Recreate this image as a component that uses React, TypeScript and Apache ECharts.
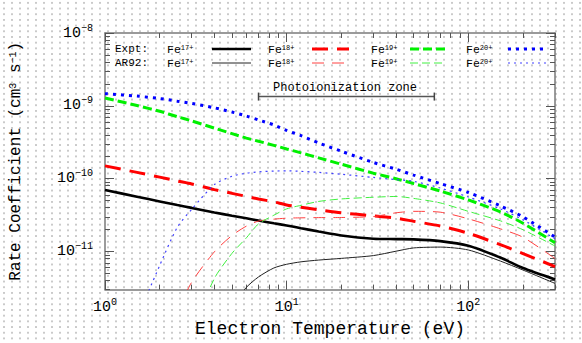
import React, { useEffect, useRef } from "react";
import * as echarts from "echarts";

// Electron temperature grid (eV)
const temperatures = [1, 1.5, 2, 2.5, 3, 4, 5, 6, 7, 8.5, 10, 12, 15, 20, 30, 40, 50, 70, 100, 150, 200, 300];

// Rate coefficients (cm^3 s^-1); null = not plotted
const exptFe17 = [6.98e-11, 5.66e-11, 4.87e-11, 4.34e-11, 3.97e-11, 3.43e-11, 3.10e-11, 2.86e-11, 2.66e-11, 2.44e-11, 2.28e-11, 2.09e-11, 1.88e-11, 1.66e-11, 1.50e-11, 1.48e-11, 1.47e-11, 1.39e-11, 1.20e-11, 8.26e-12, 5.93e-12, 4.14e-12];
const ar92Fe17 = [null, null, null, null, null, null, 1.8e-12, 3.22e-12, 4.48e-12, 5.94e-12, 6.68e-12, 7.22e-12, 7.63e-12, 8.05e-12, 8.79e-12, 1.01e-11, 1.12e-11, 1.15e-11, 1.05e-11, 7.4e-12, 5.57e-12, 3.65e-12];
const exptFe18 = [1.50e-10, 1.22e-10, 1.05e-10, 9.3e-11, 8.47e-11, 7.08e-11, 6.29e-11, 5.71e-11, 5.27e-11, 4.80e-11, 4.36e-11, 4.06e-11, 3.73e-11, 3.40e-11, 3.09e-11, 2.87e-11, 2.60e-11, 2.24e-11, 1.78e-11, 1.24e-11, 9.35e-12, 6.22e-12];
const ar92Fe18 = [null, null, null, 1.5e-12, 3.79e-12, 9.9e-12, 1.66e-11, 2.23e-11, 2.62e-11, 2.78e-11, 2.87e-11, 2.90e-11, 2.92e-11, 2.93e-11, 3.02e-11, 3.40e-11, 3.56e-11, 3.47e-11, 2.81e-11, 2.05e-11, 1.57e-11, 8.0e-12];
const exptFe19 = [1.28e-9, 1.01e-9, 8.41e-10, 7.10e-10, 6.21e-10, 4.95e-10, 4.15e-10, 3.61e-10, 3.26e-10, 2.87e-10, 2.56e-10, 2.26e-10, 1.93e-10, 1.58e-10, 1.19e-10, 1.00e-10, 8.57e-11, 6.77e-11, 5.11e-11, 3.50e-11, 2.44e-11, 1.32e-11];
const ar92Fe19 = [null, null, null, null, 8e-13, 4.27e-12, 9.44e-12, 1.54e-11, 2.40e-11, 3.15e-11, 3.85e-11, 4.31e-11, 4.87e-11, 5.27e-11, 5.56e-11, 5.70e-11, 5.36e-11, 4.65e-11, 3.56e-11, 2.64e-11, 1.99e-11, 1.19e-11];
const exptFe20 = [1.47e-9, 1.36e-9, 1.26e-9, 1.16e-9, 1.08e-9, 9.39e-10, 8.23e-10, 7.26e-10, 6.40e-10, 5.47e-10, 4.60e-10, 3.90e-10, 3.09e-10, 2.38e-10, 1.67e-10, 1.35e-10, 1.12e-10, 8.57e-11, 6.46e-11, 4.23e-11, 2.99e-11, 1.58e-11];
const ar92Fe20 = [null, 1.2e-12, 6.43e-12, 2.15e-11, 3.79e-11, 8.3e-11, 1.08e-10, 1.19e-10, 1.24e-10, 1.27e-10, 1.28e-10, 1.26e-10, 1.22e-10, 1.15e-10, 1.04e-10, 9.7e-11, 9.2e-11, 7.45e-11, 5.61e-11, 3.85e-11, 2.72e-11, 1.5e-11];

// Photoionization zone (eV) and the level it is drawn at
const photoZone = [7, 65];
const photoZoneLevel = 1.34e-9;

// Axis ranges and ticks
const xMin = 1;
const xMax = 300;
const yMin = 3e-12;
const yMax = 1e-8;
const xMajor = [1, 10, 100];
const xMinor = [2, 3, 4, 5, 6, 7, 8, 9, 20, 30, 40, 50, 60, 70, 80, 90, 200, 300];
const yMajor = [1e-11, 1e-10, 1e-9, 1e-8];
const yMinorMult = [2, 3, 4, 5, 6, 7, 8, 9];
const yMinorDecades = [1e-12, 1e-11, 1e-10, 1e-9];

const ions = ["17+", "18+", "19+", "20+"];

const MONO = '"Liberation Mono", "DejaVu Sans Mono", monospace';
const AXIS_COLOR = "#7a7a7a";
const TICK_COLOR = "#555555";

const seriesDefs = [
  { name: "Expt Fe17+", data: exptFe17, color: "#000000", width: 2.6, dash: "solid" as any },
  { name: "AR92 Fe17+", data: ar92Fe17, color: "#222222", width: 1, dash: "solid" as any },
  { name: "Expt Fe18+", data: exptFe18, color: "#ff0000", width: 3, dash: [16, 9] },
  { name: "AR92 Fe18+", data: ar92Fe18, color: "#ff4040", width: 1, dash: [12, 8] },
  { name: "Expt Fe19+", data: exptFe19, color: "#00f000", width: 3, dash: [9, 4] },
  { name: "AR92 Fe19+", data: ar92Fe19, color: "#40f040", width: 1, dash: [8, 4] },
  { name: "Expt Fe20+", data: exptFe20, color: "#0000ff", width: 3, dash: [3, 5] },
  { name: "AR92 Fe20+", data: ar92Fe20, color: "#4040ff", width: 1.2, dash: [2, 4] },
];

const supLabel = (v: number) => {
  const e = Math.round(Math.log10(v));
  const s = e < 0 ? "\u2212" + String(-e) : String(e);
  return `{b|10}{s|${s}}`;
};

const labelRich = {
  b: { fontSize: 15, lineHeight: 16, fontFamily: MONO, color: "#000", padding: [4, 0, 0, 0] },
  s: { fontSize: 10, lineHeight: 10, fontFamily: MONO, color: "#000", verticalAlign: "top" },
};

function makeXAxis(position: "bottom" | "top", values: number[], len: number, main: boolean, label: boolean) {
  return {
    type: "log",
    logBase: 10,
    min: xMin,
    max: xMax,
    position,
    axisLine: { show: main, lineStyle: { color: AXIS_COLOR, width: 1.5 } },
    axisTick: { show: true, inside: true, length: len, customValues: values, lineStyle: { color: TICK_COLOR, width: 1 } },
    axisLabel: label
      ? { show: true, customValues: xMajor, margin: 8, formatter: supLabel, rich: labelRich }
      : { show: false },
    splitLine: { show: false },
    minorTick: { show: false },
    ...(label
      ? {
          name: "Electron Temperature (eV)",
          nameLocation: "middle",
          nameGap: 20,
          nameTextStyle: { fontSize: 18, fontFamily: MONO, color: "#000" },
        }
      : {}),
  };
}

function makeYAxis(position: "left" | "right", values: number[], len: number, main: boolean, label: boolean) {
  return {
    type: "log",
    logBase: 10,
    min: yMin,
    max: yMax,
    position,
    axisLine: { show: main, lineStyle: { color: AXIS_COLOR, width: 1.5 } },
    axisTick: { show: true, inside: true, length: len, customValues: values, lineStyle: { color: TICK_COLOR, width: 1 } },
    axisLabel: label
      ? { show: true, customValues: yMajor, margin: 12, padding: [0, 0, 4, 0], formatter: supLabel, rich: labelRich }
      : { show: false },
    splitLine: { show: false },
    minorTick: { show: false },
    ...(label
      ? {
          name: "Rate Coefficient (cm{s|3} s{s|\u22121})",
          nameLocation: "middle",
          nameGap: 81,
          nameTextStyle: {
            fontSize: 16,
            fontFamily: MONO,
            color: "#000",
            rich: { s: { fontSize: 10, fontFamily: MONO, color: "#000", verticalAlign: "top", lineHeight: 10 } },
          },
        }
      : {}),
  };
}

export default function App() {
  const ref = useRef<HTMLDivElement>(null);

  useEffect(() => {
    if (!ref.current) return;
    const chart = echarts.init(ref.current, null, { renderer: "svg" });

    const yMinor: number[] = [];
    yMinorDecades.forEach((d) => yMinorMult.forEach((m) => yMinor.push(m * d)));

    const series: any[] = seriesDefs.map((s) => ({
      name: s.name,
      type: "line",
      xAxisIndex: 0,
      yAxisIndex: 0,
      data: temperatures
        .map((t, i) => [t, s.data[i]])
        .filter((p) => p[1] !== null),
      showSymbol: false,
      symbol: "none",
      smooth: 0.25,
      clip: true,
      silent: true,
      lineStyle: { color: s.color, width: s.width, type: s.dash, cap: "butt" },
      itemStyle: { color: s.color },
      z: 3,
    }));

    series.push({
      name: "Photoionization zone",
      type: "line",
      xAxisIndex: 0,
      yAxisIndex: 0,
      data: photoZone.map((t) => [t, photoZoneLevel]),
      symbol: "rect",
      symbolSize: [1.5, 8],
      showSymbol: true,
      silent: true,
      lineStyle: { color: "#555", width: 1.5 },
      itemStyle: { color: "#444" },
      label: { show: false },
    });

    // Legend drawn as graphic elements (two rows: Expt / AR92)
    const rowsY = [49, 63];
    const textX = [167, 268, 371, 466];
    const lineX = [
      [212, 251],
      [312, 349],
      [410, 445],
      [508, 546],
    ];
    const graphic: any[] = [];
    ["Expt:", "AR92:"].forEach((lab, r) => {
      graphic.push({
        type: "text",
        x: 115,
        y: rowsY[r],
        silent: true,
        style: { text: lab, fontSize: 11, lineHeight: 11, fontFamily: MONO, fill: "#000", verticalAlign: "middle" },
      });
      ions.forEach((ion, k) => {
        const def = seriesDefs[k * 2 + r];
        graphic.push({
          type: "text",
          x: textX[k],
          y: rowsY[r],
          silent: true,
          style: {
            text: `{f|Fe}{s|${ion}}`,
            verticalAlign: "middle",
            fill: "#000",
            rich: {
              f: { fontSize: 11.5, fontFamily: MONO, fill: "#000", lineHeight: 10 },
              s: { fontSize: 7, fontFamily: MONO, fill: "#000", verticalAlign: "top", lineHeight: 7 },
            },
          },
        });
        graphic.push({
          type: "line",
          silent: true,
          shape: { x1: lineX[k][0], y1: rowsY[r], x2: lineX[k][1], y2: rowsY[r] },
          style: {
            stroke: def.color,
            lineWidth: def.width,
            lineDash: Array.isArray(def.dash) ? def.dash : null,
          },
        });
      });
    });
    graphic.push({
      type: "text",
      x: 345,
      y: 88,
      silent: true,
      style: {
        text: "Photoionization zone",
        fontSize: 12,
        fontFamily: MONO,
        fill: "#000",
        align: "center",
        verticalAlign: "middle",
      },
    });

    chart.setOption({
      animation: false,
      backgroundColor: "transparent",
      grid: { left: 105, right: 27, top: 33, bottom: 53, containLabel: false },
      xAxis: [
        makeXAxis("bottom", xMajor, 9, true, true),
        makeXAxis("bottom", xMinor, 5, false, false),
        makeXAxis("top", xMajor, 9, true, false),
        makeXAxis("top", xMinor, 5, false, false),
      ],
      yAxis: [
        makeYAxis("left", yMajor, 9, true, true),
        makeYAxis("left", yMinor, 5, false, false),
        makeYAxis("right", yMajor, 9, true, false),
        makeYAxis("right", yMinor, 5, false, false),
      ],
      series,
      graphic,
    });

    return () => chart.dispose();
  }, []);

  return (
    <div
      ref={ref}
      style={{
        position: "fixed",
        left: 0,
        top: 0,
        width: 582,
        height: 343,
        backgroundColor: "#ffffff",
        backgroundImage: "radial-gradient(circle at 4px 3px, #cacaca 0.9px, rgba(255,255,255,0) 1.3px)",
        backgroundSize: "8px 5.7px",
      }}
    />
  );
}
